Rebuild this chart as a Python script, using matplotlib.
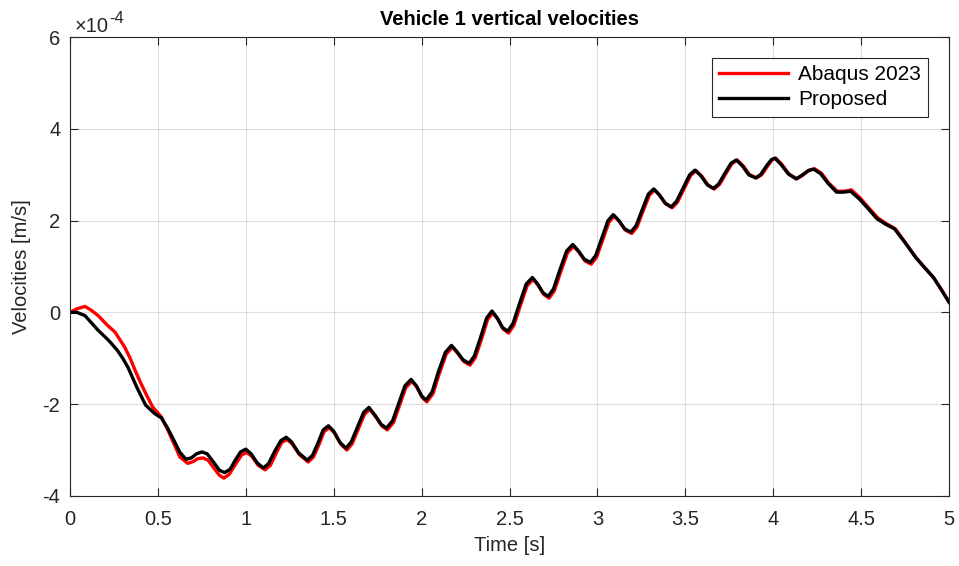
import numpy as np
import matplotlib.pyplot as plt
from matplotlib.ticker import FuncFormatter

plt.rcParams['font.family'] = ['Liberation Sans', 'DejaVu Sans']

# vertical velocity of vehicle 1, values in 1e-4 m/s
t_prop = [0.0, 0.04, 0.085, 0.12, 0.16, 0.22, 0.27, 0.30, 0.33, 0.38, 0.43, 0.48, 0.52,
          0.555, 0.59, 0.625, 0.66, 0.69, 0.72, 0.75, 0.78, 0.82, 0.85, 0.88, 0.91, 0.94,
          0.97, 1.00, 1.03, 1.065, 1.10, 1.13, 1.165, 1.20, 1.23, 1.26, 1.30, 1.35, 1.38,
          1.41, 1.44, 1.47, 1.50, 1.535, 1.57, 1.60, 1.635, 1.67, 1.70, 1.735, 1.77, 1.80,
          1.835, 1.87, 1.905, 1.94, 1.97, 2.00, 2.025, 2.06, 2.095, 2.135, 2.17, 2.20, 2.235,
          2.27, 2.30, 2.335, 2.37, 2.40, 2.43, 2.46, 2.49, 2.52, 2.555, 2.595, 2.63, 2.66,
          2.69, 2.72, 2.75, 2.785, 2.825, 2.86, 2.89, 2.925, 2.96, 2.99, 3.025, 3.06, 3.09,
          3.12, 3.155, 3.19, 3.22, 3.255, 3.29, 3.32, 3.35, 3.385, 3.42, 3.45, 3.49, 3.525,
          3.555, 3.59, 3.625, 3.66, 3.69, 3.725, 3.76, 3.79, 3.825, 3.86, 3.90, 3.93, 3.965,
          3.99, 4.01, 4.045, 4.085, 4.13, 4.16, 4.20, 4.23, 4.27, 4.31, 4.36, 4.40, 4.44,
          4.49, 4.54, 4.59, 4.64, 4.69, 4.75, 4.81, 4.86, 4.91, 4.955, 5.0]
v_prop = [0.0, 0.0, -0.07, -0.22, -0.39, -0.61, -0.83, -1.0, -1.2, -1.63, -2.02, -2.2, -2.3,
          -2.52, -2.78, -3.05, -3.2, -3.17, -3.08, -3.04, -3.08, -3.28, -3.44, -3.49, -3.42, -3.22,
          -3.04, -2.98, -3.08, -3.28, -3.39, -3.29, -3.02, -2.79, -2.72, -2.82, -3.06, -3.22, -3.11,
          -2.85, -2.56, -2.47, -2.59, -2.83, -2.96, -2.82, -2.50, -2.18, -2.07, -2.24, -2.44, -2.52,
          -2.36, -1.98, -1.60, -1.46, -1.60, -1.82, -1.91, -1.73, -1.30, -0.87, -0.72, -0.85, -1.03,
          -1.11, -0.95, -0.55, -0.12, 0.03, -0.12, -0.33, -0.41, -0.24, 0.17, 0.62, 0.76, 0.62,
          0.43, 0.35, 0.51, 0.91, 1.34, 1.48, 1.35, 1.16, 1.09, 1.24, 1.62, 2.00, 2.13,
          2.01, 1.82, 1.75, 1.89, 2.24, 2.58, 2.69, 2.57, 2.38, 2.30, 2.42, 2.73, 3.00,
          3.10, 2.97, 2.78, 2.70, 2.80, 3.03, 3.25, 3.32, 3.19, 3.00, 2.93, 3.01, 3.21,
          3.33, 3.36, 3.22, 3.02, 2.91, 2.98, 3.09, 3.12, 3.02, 2.82, 2.62, 2.62, 2.64,
          2.47, 2.26, 2.04, 1.92, 1.82, 1.52, 1.20, 0.98, 0.77, 0.50, 0.22]

t_abq = [0.0, 0.04, 0.085, 0.12, 0.16, 0.21, 0.256, 0.31, 0.34, 0.37, 0.40, 0.43, 0.47, 0.52,
         0.555, 0.59, 0.625, 0.67, 0.70, 0.725, 0.755, 0.785, 0.82, 0.85, 0.875, 0.905, 0.94,
         0.975, 1.005, 1.035, 1.07, 1.11, 1.14, 1.175, 1.205, 1.235, 1.265, 1.305, 1.355, 1.385,
         1.415, 1.445, 1.475, 1.505, 1.54, 1.575, 1.605, 1.64, 1.675, 1.705, 1.74, 1.775, 1.805,
         1.84, 1.875, 1.91, 1.945, 1.975, 2.005, 2.03, 2.065, 2.10, 2.14, 2.175, 2.205, 2.24,
         2.275, 2.305, 2.34, 2.375, 2.405, 2.435, 2.465, 2.495, 2.525, 2.56, 2.60, 2.635, 2.665,
         2.695, 2.725, 2.755, 2.79, 2.83, 2.865, 2.895, 2.93, 2.965, 2.995, 3.03, 3.065, 3.095,
         3.125, 3.16, 3.195, 3.225, 3.26, 3.295, 3.325, 3.355, 3.39, 3.425, 3.455, 3.495, 3.53,
         3.56, 3.595, 3.63, 3.665, 3.695, 3.73, 3.765, 3.795, 3.83, 3.865, 3.905, 3.935, 3.97,
         3.995, 4.015, 4.05, 4.09, 4.135, 4.165, 4.205, 4.235, 4.275, 4.315, 4.365, 4.405, 4.445,
         4.495, 4.545, 4.595, 4.645, 4.695, 4.755, 4.815, 4.865, 4.915, 4.96, 5.0]
v_abq = [0.0, 0.08, 0.13, 0.05, -0.07, -0.27, -0.43, -0.75, -0.98, -1.26, -1.52, -1.76, -2.06, -2.28,
         -2.55, -2.85, -3.15, -3.29, -3.25, -3.19, -3.17, -3.22, -3.40, -3.55, -3.61, -3.53, -3.32,
         -3.11, -3.05, -3.14, -3.33, -3.43, -3.33, -3.05, -2.83, -2.77, -2.87, -3.10, -3.26, -3.15,
         -2.89, -2.60, -2.51, -2.63, -2.87, -3.00, -2.86, -2.54, -2.22, -2.11, -2.28, -2.48, -2.56,
         -2.40, -2.02, -1.64, -1.50, -1.64, -1.86, -1.95, -1.77, -1.34, -0.91, -0.76, -0.89, -1.07,
         -1.15, -0.99, -0.59, -0.16, -0.01, -0.16, -0.37, -0.45, -0.28, 0.13, 0.58, 0.72, 0.58,
         0.39, 0.31, 0.47, 0.87, 1.30, 1.44, 1.31, 1.12, 1.05, 1.20, 1.58, 1.96, 2.10,
         1.98, 1.79, 1.72, 1.86, 2.21, 2.55, 2.67, 2.55, 2.36, 2.28, 2.40, 2.71, 2.98,
         3.09, 2.96, 2.77, 2.69, 2.79, 3.02, 3.24, 3.32, 3.19, 3.00, 2.93, 3.00, 3.20,
         3.33, 3.36, 3.22, 3.01, 2.91, 2.98, 3.10, 3.13, 3.03, 2.82, 2.64, 2.64, 2.67,
         2.49, 2.27, 2.06, 1.93, 1.82, 1.50, 1.18, 0.96, 0.74, 0.48, 0.23]

scale = 1e-4
ax_col = (0.15, 0.15, 0.15)
fs = 14.5

fig = plt.figure(figsize=(9.59, 5.66), dpi=100)
ax = fig.add_axes([0.073, 0.1237, 0.9166, 0.8109])

ax.plot(t_abq, np.array(v_abq) * scale, color='red', lw=2.4, label='Abaqus 2023',
        solid_joinstyle='round')
ax.plot(t_prop, np.array(v_prop) * scale, color='black', lw=2.4, label='Proposed',
        solid_joinstyle='round')

ax.set_xlim(0, 5)
ax.set_ylim(-4e-4, 6e-4)
ax.set_xticks(np.arange(0, 5.01, 0.5))
ax.set_yticks(np.arange(-4, 6.01, 2) * scale)
ax.xaxis.set_major_formatter(FuncFormatter(lambda x, p: '%g' % x))
ax.yaxis.set_major_formatter(FuncFormatter(lambda y, p: '%g' % round(y / scale)))
ax.grid(True, color=(0.15, 0.15, 0.15), alpha=0.15, lw=0.8)
ax.tick_params(direction='in', length=6, width=0.8, colors=ax_col, labelsize=fs,
               top=True, right=True)
ax.tick_params(axis='x', pad=10)
ax.tick_params(axis='y', pad=7)
for s in ax.spines.values():
    s.set_color(ax_col)
    s.set_linewidth(0.8)

# exponent label above the y axis
ax.annotate('\u00d710', xy=(0, 1), xycoords='axes fraction', xytext=(3, 1),
            textcoords='offset points', fontsize=fs, color=ax_col, ha='left', va='bottom')
ax.annotate('-4', xy=(0, 1), xycoords='axes fraction', xytext=(28, 8),
            textcoords='offset points', fontsize=12, color=ax_col, ha='left', va='bottom')

ax.set_xlabel('Time [s]', fontsize=fs, color=ax_col, labelpad=5)
ax.set_ylabel('Velocities [m/s]', fontsize=fs, color=ax_col, labelpad=8)
ax.set_title('Vehicle 1 vertical velocities', fontsize=14.5, fontweight='bold', pad=9)

leg = ax.legend(loc='upper right', fontsize=15, fancybox=False, framealpha=1,
                edgecolor=ax_col, handlelength=3.3, borderaxespad=1.0,
                borderpad=0.35, labelspacing=0.3, handletextpad=0.5)
leg.get_frame().set_linewidth(0.8)

fig.savefig('out.png', dpi=100)
